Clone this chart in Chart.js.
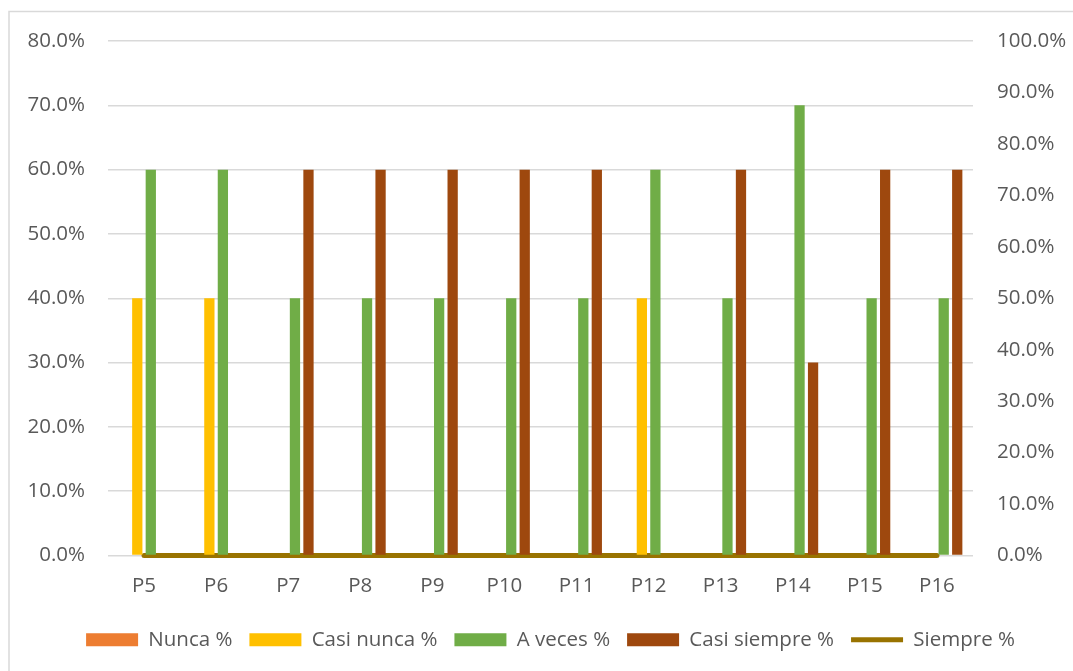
<!DOCTYPE html>
<html>
<head>
<meta charset="utf-8">
<script src="https://cdn.jsdelivr.net/npm/chart.js@4.4.1/dist/chart.umd.min.js"></script>
<style>
  html, body { margin: 0; padding: 0; background: #ffffff; }
  #wrap { position: relative; width: 1073px; height: 671px; }
</style>
</head>
<body>
<div id="wrap"><canvas id="c" width="1073" height="671"></canvas></div>
<script>
const categories = ['P5','P6','P7','P8','P9','P10','P11','P12','P13','P14','P15','P16'];
const nunca       = [0, 0, 0, 0, 0, 0, 0, 0, 0, 0, 0, 0];
const casiNunca   = [40, 40, 0, 0, 0, 0, 0, 40, 0, 0, 0, 0];
const aVeces      = [60, 60, 40, 40, 40, 40, 40, 60, 40, 70, 40, 40];
const casiSiempre = [0, 0, 60, 60, 60, 60, 60, 0, 60, 30, 60, 60];
const siempre     = [0, 0, 0, 0, 0, 0, 0, 0, 0, 0, 0, 0];
const seriesNames = ['Nunca %', 'Casi nunca %', 'A veces %', 'Casi siempre %', 'Siempre %'];
const leftTicks = { min: 0, max: 80, step: 10 };
const rightTicks = { min: 0, max: 100, step: 10 };

const TEXT = '#595959';
const GRID = '#d9d9d9';
const FONT = { family: "'Open Sans', sans-serif", size: 20.5 };

const borderPlugin = {
  id: 'outerBorder',
  beforeDraw(chart) {
    const ctx = chart.ctx;
    ctx.save();
    ctx.fillStyle = '#ffffff';
    ctx.fillRect(0, 0, chart.width, chart.height);
    ctx.strokeStyle = GRID;
    ctx.lineWidth = 1.5;
    ctx.strokeRect(9, 11.5, 2000, 2000);
    ctx.restore();
  }
};

const legendShift = {
  id: 'legendShift',
  afterLayout(chart) {
    const lg = chart.legend;
    if (lg) { lg.left += 14; lg.right += 14; }
  }
};

function barDs(label, data, color) {
  return {
    type: 'bar', label, data, backgroundColor: color, borderWidth: 0,
    pointStyle: 'rect', yAxisID: 'y',
    barPercentage: 0.76, categoryPercentage: 0.75
  };
}

new Chart(document.getElementById('c'), {
  data: {
    labels: categories,
    datasets: [
      barDs(seriesNames[0], nunca, '#ED7D31'),
      barDs(seriesNames[1], casiNunca, '#FFC000'),
      barDs(seriesNames[2], aVeces, '#70AD47'),
      barDs(seriesNames[3], casiSiempre, '#9E480E'),
      {
        type: 'line', label: seriesNames[4], data: siempre, yAxisID: 'y1',
        borderColor: '#997300', backgroundColor: '#997300', borderWidth: 5,
        borderCapStyle: 'round', pointRadius: 0, pointStyle: 'line',
        clip: false, fill: false
      }
    ]
  },
  options: {
    responsive: false,
    animation: false,
    devicePixelRatio: 1,
    layout: { padding: { left: 0, right: 0, top: 41, bottom: 11 } },
    plugins: {
      tooltip: { enabled: false },
      legend: {
        position: 'bottom',
        labels: {
          usePointStyle: true, pointStyleWidth: 52, boxHeight: 13,
          padding: 17, color: TEXT, font: FONT
        }
      }
    },
    scales: {
      x: {
        grid: { display: false },
        border: { display: false },
        ticks: { color: TEXT, font: FONT, padding: 10 },
        afterFit(s) { s.height = 57; }
      },
      y: {
        position: 'left',
        min: leftTicks.min, max: leftTicks.max,
        grid: { color: GRID, lineWidth: 1.5, drawTicks: false },
        border: { display: false },
        ticks: {
          stepSize: leftTicks.step, color: TEXT, font: FONT, padding: 23,
          callback: v => v.toFixed(1) + '%'
        },
        afterFit(s) { s.width = 108; }
      },
      y1: {
        position: 'right',
        min: rightTicks.min, max: rightTicks.max,
        grid: { display: false, drawTicks: false },
        border: { display: false },
        ticks: {
          stepSize: rightTicks.step, color: TEXT, font: FONT, padding: 24,
          callback: v => v.toFixed(1) + '%'
        },
        afterFit(s) { s.width = 100; }
      }
    }
  },
  plugins: [borderPlugin, legendShift]
});
</script>
</body>
</html>
